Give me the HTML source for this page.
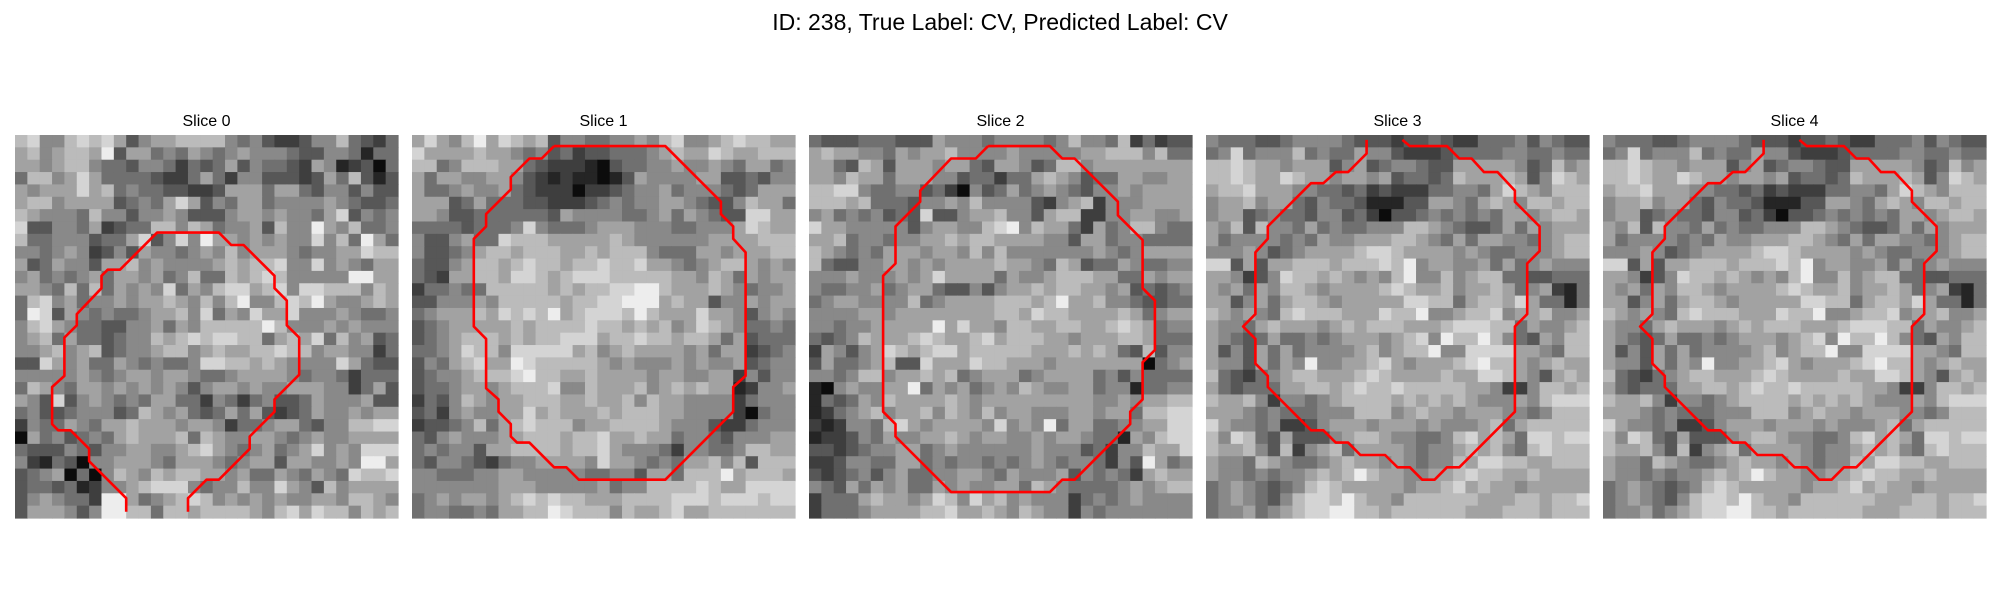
<!DOCTYPE html>
<html><head><meta charset="utf-8"><style>
html,body{margin:0;padding:0;background:#fff;}
svg{display:block;}
text{font-family:"Liberation Sans","DejaVu Sans",sans-serif;fill:#000;}
</style></head><body>
<svg id="fig" width="2000" height="600" viewBox="0 0 2000 600" xmlns="http://www.w3.org/2000/svg">
<rect width="2000" height="600" fill="#fff"/>
<text x="1000" y="30" font-size="23" text-anchor="middle">ID: 238, True Label: CV, Predicted Label: CV</text>
</svg>
<script>
const sliceTitles = ["Slice 0","Slice 1","Slice 2","Slice 3","Slice 4"];
const slice0 = [
"7855787863566777754532235574324","6756776936645465456555433554144","6656775443554243463544326512304","4775686444432246425533323647313","6566686745443322366646643553533","6775666634546863546645555654334","7655547553556533356656554683545","8335546234477576455637559657445","7445553446835859665656558574964","5545652353655456575666545566877","6346553667565555676778558565466","5645456466564574476787555559966","6654747465658465788678588777576","4785645565667657579557879655676","4983654544566758465866855565445","5786544335564657777797555656555","5674644345576787887746768475634","5567567345567756766778775665524","3386564465454458877676555586433","5555565456656654456666545542444","4765466565656535665655666552463","6538356545466442542453346555633","4533455534765643464632346556566","2544654667666566524456643557788","0645345467666747655665456556666","4333543556655678654564568565888","5214305566654666545663665565996","3456040576576776656446546548778","3443412556788854557558653756666","3565442996456787565656556657765","3666535997747767777657868775767"];
const slice1 = [
"6865796876735544556578556787766","8666676654534233444567668766777","7745777664322210344556556546645","6466556653212110136555566334355","6445655643222022345564555434666","6663464443322234545566543357664","6653344444436555544564654338866","4444344458544456665554455568766","5335644877766666765555556666777","5334567767776676777544466566677","4335677678776778778665456776565","4326677688767888777776657646566","2445447777767677889976667654556","3355565777776778899967663556566","4566676878796788879766686653565","3456666676777787767675687654454","3456777676778886778776776463444","4456877588888675676666564662345","3546786698777776565556565563455","3455677789776676666566556625355","3445665677785576667567676612556","2435765667776676675766555524555","3425655668676667677766555520455","2334574678777566777765553224555","4356555667776778667664554355566","4545536677776778655542554457766","4355432455666658665454667573777","5544455665555544553664777967776","5555555666555556455777787668888","4565665678787766677778887888788","4554454667798777576678667777777"];
const slice2 = [
"4333444333655545555457554724233","6766554656675555655555667775744","6643763666566436653477566666666","6657664666553442446765344665566","7788544553420534645654355656666","7776744435565755553256725556666","5645453438335667553677225566556","8665555535665578957664264577544","6674554556676776666553664554444","7654546665665757555555565456666","7433556656566667665476344654455","5556555656866664655677766446566","5445564566433535667677665634345","4566555574566667776796675543344","5555665666666667768776666764566","5545566666968665776677667876455","4345766678766786777665666776444","2653568767886777776667676437355","3644567338666877666566666660456","5545775667674566645666645354444","1056556694656456576556645514455","1434657666676566666666655656677","1245675667576575665556656647788","2125547865666658565946644556688","1223546556676566556566544165788","3323455664565555556555342557668","2235544664545545456545542539645","3234535644556654655563545426766","5436465644656556647654444565677","2444676656875867565552454565555","2444566667786676576552545555555"];
const slice3 = [
"5444334555543332334322444535433","4584555745446553222344445544544","7787665666356345543366666534756","7787668766566563443476667635876","6778666554434232224455468765777","5667566435443111336654676577677","5663454435534203345454546656776","6573755464544555776543346465666","6455554546556667765464665545677","5556534566667887666656544555677","8836366777677787956655646456555","6652358776765657955756774433444","6564657765666678766756676456214","6635646776566666887746776864414","7656547877766687795567785667556","6554676665676777666788877465567","6543464454566656785977975436577","6353646455556756779558888665477","6553646595566786566678977656766","7432456776667876666766887653676","6434446677678778777776652257767","7667525545677776767676555657888","6665454445557775676656665545777","8655452235666566656555674677777","7587436333567765544578676488788","7667537256746666545567675478777","6554765445676656545576887766777","6554545567679766556678776676666","4565434578766666566786766566666","4565435788797665777777666776778","4556456788997767777776667776777"];
const slice4 = slice3;
const sliceData = [slice0, slice1, slice2, slice3, slice4];
const contour0 = [[9,30.5],[9,29.4],[6,26.4],[6,25.4],[4.5,23.9],[3.5,23.9],[3,23.4],[3,20.4],[4,19.5],[4,16.4],[5,15.4],[5,14.5],[7,12.4],[7,11.4],[7.5,10.9],[8.5,10.9],[11.5,7.9],[16.5,7.9],[17.5,8.9],[18.5,8.9],[21,11.4],[21,12.4],[22,13.4],[22,15.4],[23,16.4],[23,19.4],[21,21.4],[21,22.4],[19,24.4],[19,25.4],[16.5,27.9],[15.5,27.9],[14,29.4],[14,30.5]];
const contour1 = [[11.5,0.9],[20.5,0.9],[25,5.4],[25,6.4],[26,7.4],[26,8.4],[27,9.5],[27,19.5],[26,20.4],[26,22.4],[20.5,27.9],[13.5,27.9],[12.5,26.9],[11.5,26.9],[9.5,24.9],[8.5,24.9],[8,24.4],[8,23.4],[7,22.4],[7,21.4],[6,20.5],[6,16.5],[5,15.5],[5,8.4],[6,7.4],[6,6.4],[8,4.4],[8,3.4],[9.5,1.9],[10.5,1.9],[11.5,0.9]];
const contour2 = [[14.5,0.9],[19.5,0.9],[20.5,1.9],[21.5,1.9],[25,5.4],[25,6.5],[27,8.5],[27,12.4],[28,13.4],[28,17.4],[27,18.4],[27,21.4],[26,22.4],[26,23.4],[21.5,27.9],[20.5,27.9],[19.5,28.9],[11.5,28.9],[7,24.4],[7,23.4],[6,22.4],[6,11.4],[7,10.4],[7,7.4],[9,5.4],[9,4.5],[11.5,1.9],[13.5,1.9],[14.5,0.9]];
const contour3 = [[13,0.4],[13,1.5],[11.5,3],[10.5,3],[9.5,3.9],[8.5,3.9],[5,7.4],[5,8.4],[4,9.5],[4,14.5],[3,15.5],[4,16.5],[4,18.5],[5,19.5],[5,20.4],[8.5,23.9],[9.5,23.9],[10.5,24.9],[11.5,24.9],[12.5,25.9],[14.5,25.9],[15.5,26.9],[16.5,26.9],[17.5,27.9],[18.5,27.9],[19.5,26.9],[20.5,26.9],[25,22.4],[25,15.5],[26,14.5],[26,10.4],[27,9.4],[27,7.4],[25,5.4],[25,4.5],[23.6,3],[22.5,3],[21.5,1.9],[20.5,1.9],[19.5,0.9],[16.5,0.9],[15.9,0.4]];
const contour4 = contour3;
const contours = [contour0, contour1, contour2, contour3, contour4];

const NS = "http://www.w3.org/2000/svg";
const svg = document.getElementById('fig');
const panelX0 = 15, panelStep = 397, panelY0 = 135, panelSize = 383;
function gray(v){ const g = Math.round(12 + v * 25); return `rgb(${g},${g},${g})`; }
for (let p = 0; p < sliceData.length; p++) {
  const rows = sliceData[p];
  const n = rows.length;
  const cell = panelSize / n;
  const px = panelX0 + p * panelStep;
  const xs = c => px + c * cell;
  const ys = r => panelY0 + r * cell;
  const g = document.createElementNS(NS, 'g');
  
  
  svg.appendChild(g);
  const t = document.createElementNS(NS, 'text');
  
  
  t.setAttribute('x', px + panelSize / 2);
  t.setAttribute('y', 126);
  t.setAttribute('font-size', '16');
  t.setAttribute('text-anchor', 'middle');
  t.textContent = sliceTitles[p];
  g.appendChild(t);
  for (let r = 0; r < n; r++) {
    for (let c = 0; c < rows[r].length; c++) {
      const v = +rows[r][c];
      const rc = document.createElementNS(NS, 'rect');
      
      
      rc.setAttribute('x', xs(c).toFixed(2));
      rc.setAttribute('y', ys(r).toFixed(2));
      rc.setAttribute('width', (cell + 0.6).toFixed(2));
      rc.setAttribute('height', (cell + 0.6).toFixed(2));
      rc.setAttribute('fill', gray(v));
      g.appendChild(rc);
    }
  }
  const pl = document.createElementNS(NS, 'polyline');
  
  
  pl.setAttribute('points', contours[p].map(q => xs(q[0]).toFixed(1) + ',' + ys(q[1]).toFixed(1)).join(' '));
  pl.setAttribute('fill', 'none');
  pl.setAttribute('stroke', '#ff0000');
  pl.setAttribute('stroke-width', '2.6');
  pl.setAttribute('stroke-linejoin', 'round');
  g.appendChild(pl);
}
</script>
</body></html>
